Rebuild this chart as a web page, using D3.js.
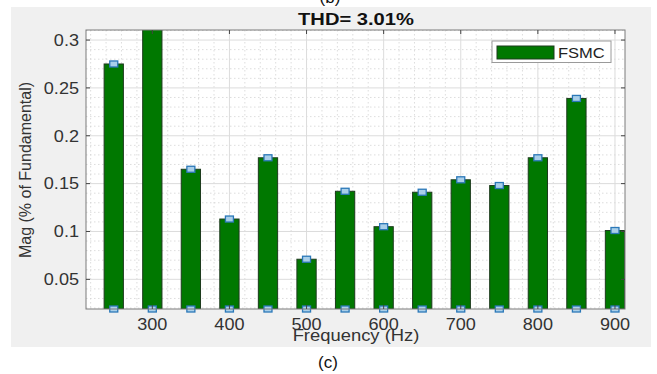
<!DOCTYPE html>
<html>
<head>
<meta charset="utf-8">
<script src="https://cdn.jsdelivr.net/npm/d3@7"></script>
<style>
  html, body { margin: 0; padding: 0; background: #ffffff; }
  svg { display: block; }
  text { font-family: "Liberation Sans", Arial, Helvetica, sans-serif; }
</style>
</head>
<body>
<svg id="chart" width="657" height="374"></svg>
<script>
// Harmonic spectrum, FSMC controller
const frequencies = [250, 300, 350, 400, 450, 500, 550, 600, 650, 700, 750, 800, 850, 900];
const magnitudes  = [0.275, 0.33, 0.165, 0.113, 0.177, 0.071, 0.142, 0.105, 0.141, 0.154, 0.148, 0.177, 0.239, 0.101];
const xTicks = [300, 400, 500, 600, 700, 800, 900];
const yTicks = [0.05, 0.1, 0.15, 0.2, 0.25, 0.3];
const yTickLabels = ["0.05", "0.1", "0.15", "0.2", "0.25", "0.3"];
const seriesName = "FSMC";
const titleText = "THD= 3.01%";
const xLabel = "Frequency (Hz)";
const yLabel = "Mag (% of Fundamental)";

const svg = d3.select("#chart");

const plot = { left: 86, right: 625, top: 30, bottom: 309 };
const barWidthHz = 25;

const x = d3.scaleLinear().domain([214, 913]).range([plot.left, plot.right]);
const y = d3.scaleLinear().domain([0.019, 0.3105]).range([plot.bottom, plot.top]);

// figure background
svg.append("rect").attr("x", 11).attr("y", 7).attr("width", 640).attr("height", 340).attr("fill", "#f0f0f0");

// panel caption above (partly cut off by the top edge)
svg.append("text").attr("x", 330).attr("y", 3).attr("text-anchor", "middle")
  .attr("font-size", 17).attr("fill", "#111").text("(b)");

// axes background
svg.append("rect").attr("x", plot.left).attr("y", plot.top)
  .attr("width", plot.right - plot.left).attr("height", plot.bottom - plot.top).attr("fill", "#ffffff");

svg.append("defs").append("clipPath").attr("id", "plotclip")
  .append("rect").attr("x", plot.left).attr("y", plot.top)
  .attr("width", plot.right - plot.left).attr("height", plot.bottom - plot.top);

const grid = svg.append("g").attr("clip-path", "url(#plotclip)");

// minor grid (dotted)
const xMinor = d3.range(220, 913, 20).filter(v => v % 100 !== 0);
const yMinor = d3.range(2, 32).map(v => v / 100).filter(v => Math.round(v * 100) % 5 !== 0);
grid.selectAll(".xminor").data(xMinor).join("line")
  .attr("x1", d => x(d)).attr("x2", d => x(d)).attr("y1", plot.top).attr("y2", plot.bottom)
  .attr("stroke", "#d4d4d4").attr("stroke-width", 0.8).attr("stroke-dasharray", "1.5,2.5");
grid.selectAll(".yminor").data(yMinor).join("line")
  .attr("x1", plot.left).attr("x2", plot.right).attr("y1", d => y(d)).attr("y2", d => y(d))
  .attr("stroke", "#d4d4d4").attr("stroke-width", 0.8).attr("stroke-dasharray", "1.5,2.5");

// major grid
grid.selectAll(".xmajor").data(xTicks).join("line")
  .attr("x1", d => x(d)).attr("x2", d => x(d)).attr("y1", plot.top).attr("y2", plot.bottom)
  .attr("stroke", "#dcdcdc").attr("stroke-width", 1);
grid.selectAll(".ymajor").data(yTicks).join("line")
  .attr("x1", plot.left).attr("x2", plot.right).attr("y1", d => y(d)).attr("y2", d => y(d))
  .attr("stroke", "#dcdcdc").attr("stroke-width", 1);

// bars
const bars = svg.append("g").attr("clip-path", "url(#plotclip)");
const halfW = (x(barWidthHz) - x(0)) / 2;
bars.selectAll("rect").data(frequencies).join("rect")
  .attr("x", (d) => x(d) - halfW)
  .attr("width", halfW * 2)
  .attr("y", (d, i) => y(magnitudes[i]))
  .attr("height", (d, i) => y.range()[0] - y(magnitudes[i]))
  .attr("fill", "#007800").attr("stroke", "#1d3a1d").attr("stroke-width", 1);

// square markers at the top and base of every bar
const mW = 8, mH = 6;
const markerG = svg.append("g");
const tops = frequencies.map((f, i) => ({ f, v: magnitudes[i] })).filter(d => d.v <= y.domain()[1]);
function drawMarkers(data, yFn) {
  markerG.selectAll(null).data(data).join("rect")
    .attr("x", d => x(d.f) - mW / 2).attr("y", d => yFn(d) - mH / 2)
    .attr("width", mW).attr("height", mH)
    .attr("fill", "#a9cfe9").attr("stroke", "#2b78b8").attr("stroke-width", 1.3);
}
drawMarkers(tops, d => y(d.v));
drawMarkers(frequencies.map(f => ({ f })), () => y(y.domain()[0]));

// axis box
const axisColor = "#7a7a7a";
svg.append("rect").attr("x", plot.left).attr("y", plot.top)
  .attr("width", plot.right - plot.left).attr("height", plot.bottom - plot.top)
  .attr("fill", "none").attr("stroke", axisColor).attr("stroke-width", 1);

// inward ticks on all four sides
const tickLen = 4;
const ticks = svg.append("g").attr("stroke", "#444").attr("stroke-width", 1);
xTicks.forEach(v => {
  ticks.append("line").attr("x1", x(v)).attr("x2", x(v)).attr("y1", plot.top).attr("y2", plot.top + tickLen);
  ticks.append("line").attr("x1", x(v)).attr("x2", x(v)).attr("y1", plot.bottom).attr("y2", plot.bottom - tickLen);
});
yTicks.forEach(v => {
  ticks.append("line").attr("x1", plot.left).attr("x2", plot.left + tickLen).attr("y1", y(v)).attr("y2", y(v));
  ticks.append("line").attr("x1", plot.right).attr("x2", plot.right - tickLen).attr("y1", y(v)).attr("y2", y(v));
});

// horizontally stretched text helper
function stretchedText(px, py, sx, str, opts) {
  const t = svg.append("text")
    .attr("transform", `translate(${px},${py}) scale(${sx},1)`)
    .attr("text-anchor", opts.anchor || "middle")
    .attr("font-size", opts.size)
    .attr("font-weight", opts.weight || "normal")
    .attr("fill", opts.fill || "#333")
    .text(str);
  return t;
}

// tick labels
xTicks.forEach(v => stretchedText(x(v), 330, 1.13, String(v), { size: 16 }));
yTicks.forEach((v, i) => stretchedText(79, y(v) + 5.8, 1.13, yTickLabels[i], { size: 16, anchor: "end" }));

// axis labels
stretchedText(356, 340.5, 1.15, xLabel, { size: 16 });
svg.append("text")
  .attr("transform", `translate(31,170) rotate(-90)`)
  .attr("text-anchor", "middle").attr("font-size", 16).attr("fill", "#333")
  .text(yLabel);

// title
stretchedText(356, 25, 1.26, titleText, { size: 16, weight: "bold", fill: "#111" });

// legend
const lg = svg.append("g");
lg.append("rect").attr("x", 492).attr("y", 41).attr("width", 119).attr("height", 21.5)
  .attr("fill", "#ffffff").attr("stroke", "#9a9a9a").attr("stroke-width", 1);
lg.append("rect").attr("x", 497).attr("y", 46).attr("width", 57).attr("height", 13)
  .attr("fill", "#007800").attr("stroke", "#1d3a1d").attr("stroke-width", 1);
stretchedText(558, 58.3, 1.18, seriesName, { size: 14, anchor: "start", fill: "#222" });

// sub-figure caption
svg.append("text").attr("x", 328).attr("y", 368).attr("text-anchor", "middle")
  .attr("font-size", 17).attr("fill", "#111").text("(c)");
</script>
</body>
</html>
